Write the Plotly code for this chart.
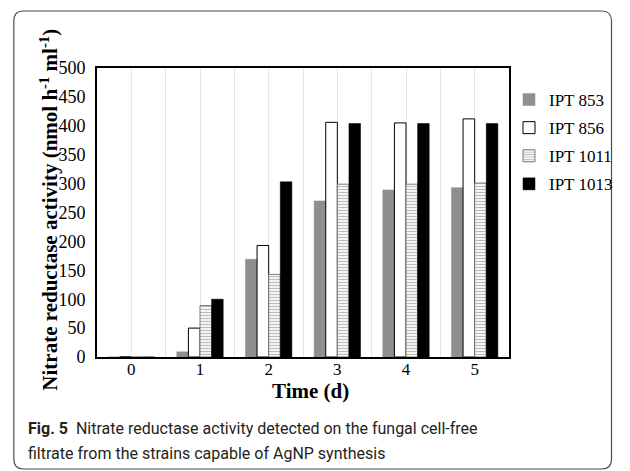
import plotly.graph_objects as go

days = [0, 1, 2, 3, 4, 5]
ipt853 = [0, 9, 169, 270, 289, 293]
ipt856 = [0, 50, 193, 406, 405, 412]
ipt1011 = [0, 89, 143, 299, 299, 301]
ipt1013 = [0, 100, 303, 404, 404, 404]
series_names = ["IPT 853", "IPT 856", "IPT 1011", "IPT 1013"]
y_ticks = [0, 50, 100, 150, 200, 250, 300, 350, 400, 450, 500]

W, H = 630, 471
L, R, T, B = 97, 523, 68, 357


def px(x):
    return (x - L) / (R - L)


def py(y):
    return (B - y) / (B - T)


fig = go.Figure()
fig.add_trace(go.Bar(x=days, y=ipt853, name=series_names[0], legendgroup="a",
                     marker=dict(color="#8f8f8f", line=dict(color="#8f8f8f", width=0.5))))
fig.add_trace(go.Bar(x=days, y=ipt856, name=series_names[1], legendgroup="b",
                     marker=dict(color="white", line=dict(color="black", width=1))))
fig.add_trace(go.Bar(x=days, y=ipt1011, name=series_names[2], legendgroup="c",
                     marker=dict(color="white", line=dict(color="#7a7a7a", width=1),
                                 pattern=dict(shape="-", fgcolor="#7a7a7a", bgcolor="white",
                                              size=3, solidity=0.45))))
fig.add_trace(go.Bar(x=days, y=ipt1013, name=series_names[3], legendgroup="d",
                     marker=dict(color="black", line=dict(color="black", width=0.5))))

serif = "Liberation Serif, Times New Roman, serif"

fig.update_layout(
    width=W, height=H,
    margin=dict(l=L, r=W - R, t=T, b=H - B, pad=0),
    paper_bgcolor="white", plot_bgcolor="white",
    barmode="group", bargap=0.324, bargroupgap=0,
    font=dict(family=serif, size=17, color="black"),
    showlegend=True,
    legend=dict(x=px(523), y=py(82), xanchor="left", yanchor="top",
                font=dict(family=serif, size=17, color="black"),
                traceorder="grouped", tracegroupgap=3,
                itemwidth=30, bgcolor="rgba(0,0,0,0)"),
    xaxis=dict(range=[-0.5, 5.5], tickmode="array", tickvals=days,
               ticktext=[str(d) for d in days], showgrid=True, gridcolor="#e6e6e6",
               gridwidth=1, minor=dict(dtick=0.5, tick0=0.5, showgrid=True,
                                       gridcolor="#e6e6e6", gridwidth=1),
               showline=True, linecolor="black", linewidth=2, mirror=True,
               ticks="", zeroline=False, tickfont=dict(size=17), ticklabelstandoff=-4),
    yaxis=dict(range=[0, 500], tickmode="array", tickvals=y_ticks, showgrid=False,
               showline=True, linecolor="black", linewidth=2, mirror=True,
               ticks="", zeroline=False, tickfont=dict(size=18), ticklabelstandoff=6),
)

# outer rounded frame
x0, x1, y0, y1 = px(11), px(629), py(11), py(469)
rx, ry = 10 / (R - L), 10 / (B - T)
path = (f"M {x0+rx},{y0} L {x1-rx},{y0} Q {x1},{y0} {x1},{y0-ry} "
        f"L {x1},{y1+ry} Q {x1},{y1} {x1-rx},{y1} "
        f"L {x0+rx},{y1} Q {x0},{y1} {x0},{y1+ry} "
        f"L {x0},{y0-ry} Q {x0},{y0} {x0+rx},{y0} Z")
fig.add_shape(type="path", path=path, xref="paper", yref="paper",
              line=dict(color="#4d4d4d", width=1.2), fillcolor="rgba(0,0,0,0)", layer="below")

# axis titles
fig.add_annotation(x=px(47), y=py(210), xref="paper", yref="paper", textangle=-90,
                   text="<b>Nitrate reductase activity (nmol h<sup>-1</sup> ml<sup>-1</sup>)</b>",
                   showarrow=False, font=dict(family=serif, size=21, color="black"),
                   xanchor="center", yanchor="middle")
fig.add_annotation(x=px(318), y=py(391), xref="paper", yref="paper",
                   text="<b>Time (d)</b>", showarrow=False,
                   font=dict(family=serif, size=21, color="black"),
                   xanchor="center", yanchor="middle")

# caption
cap_font = dict(family="Roboto, Noto Sans, sans-serif", size=16, color="#231f20")
fig.add_annotation(x=px(24), y=py(428), xref="paper", yref="paper", xanchor="left", yanchor="middle",
                   text="<b>Fig. 5</b>  Nitrate reductase activity detected on the fungal cell-free",
                   showarrow=False, font=cap_font, align="left")
fig.add_annotation(x=px(24), y=py(453), xref="paper", yref="paper", xanchor="left", yanchor="middle",
                   text="filtrate from the strains capable of AgNP synthesis",
                   showarrow=False, font=cap_font, align="left")

fig.write_html("out.html", config={"displayModeBar": False},
               post_script="document.body.style.margin='0';document.body.style.overflow='hidden';")
